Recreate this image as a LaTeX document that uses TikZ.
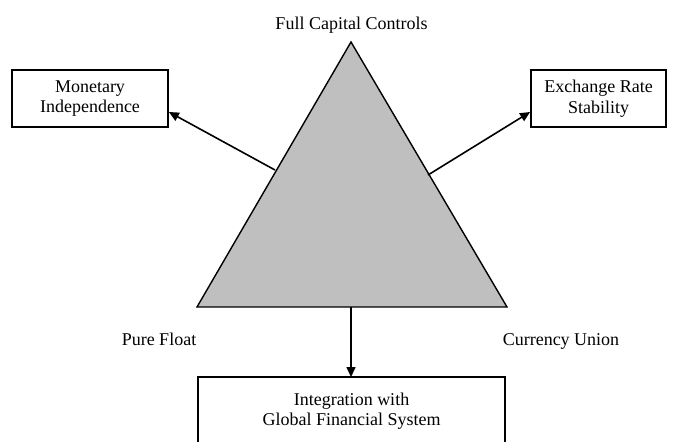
\documentclass[tikz,border=0pt]{standalone}
\usepackage{fontspec}
\setmainfont{Liberation Serif}
\usetikzlibrary{arrows.meta}
\begin{document}
\begin{tikzpicture}[x=1pt,y=-1pt,
  every node/.style={font=\fontsize{18}{20.5}\selectfont},
  boxnode/.style={draw,line width=1.8pt,align=center,inner sep=0pt},
  lbl/.style={inner sep=0pt,anchor=base},
  conn/.style={line width=1.6pt,-{Triangle[length=10pt,width=9pt]}}]
\useasboundingbox (0,0) rectangle (678,442);
% the triangle of policy options
\coordinate (apex) at (351,42);
\coordinate (bl) at (197,307);
\coordinate (br) at (507,307);
\draw[fill=black!25,line width=1.4pt,line join=miter] (apex) -- (bl) -- (br) -- cycle;
% corner labels
\node[lbl] (fcc) at (351.5,29) {Full Capital Controls};
\node[lbl] (pf) at (159,345) {Pure Float};
\node[lbl] (cu) at (561,345) {Currency Union};
% goal boxes
\node[boxnode,minimum width=156pt,minimum height=57pt] (mi) at (90,98.5) {Monetary\\Independence};
\node[boxnode,minimum width=135pt,minimum height=57pt] (ers) at (598.5,98.5) {Exchange Rate\\Stability};
\draw[line width=1.8pt] (198,460) -- (198,377) -- (505,377) -- (505,460);
\node[inner sep=0pt,align=center] (igfs) at (351.5,411) {Integration with\\Global Financial System};
\coordinate (igfstop) at (351,377);
% connectors from the triangle to the goals
\coordinate (ls) at (275,170);
\coordinate (rs) at (428,175);
\coordinate (bs) at (351,307);
\draw[conn] (ls) -- (mi.east |- 0,112);
\draw[conn] (rs) -- (ers.west |- 0,112);
\draw[conn] (bs) -- (igfstop);
\end{tikzpicture}
\end{document}
